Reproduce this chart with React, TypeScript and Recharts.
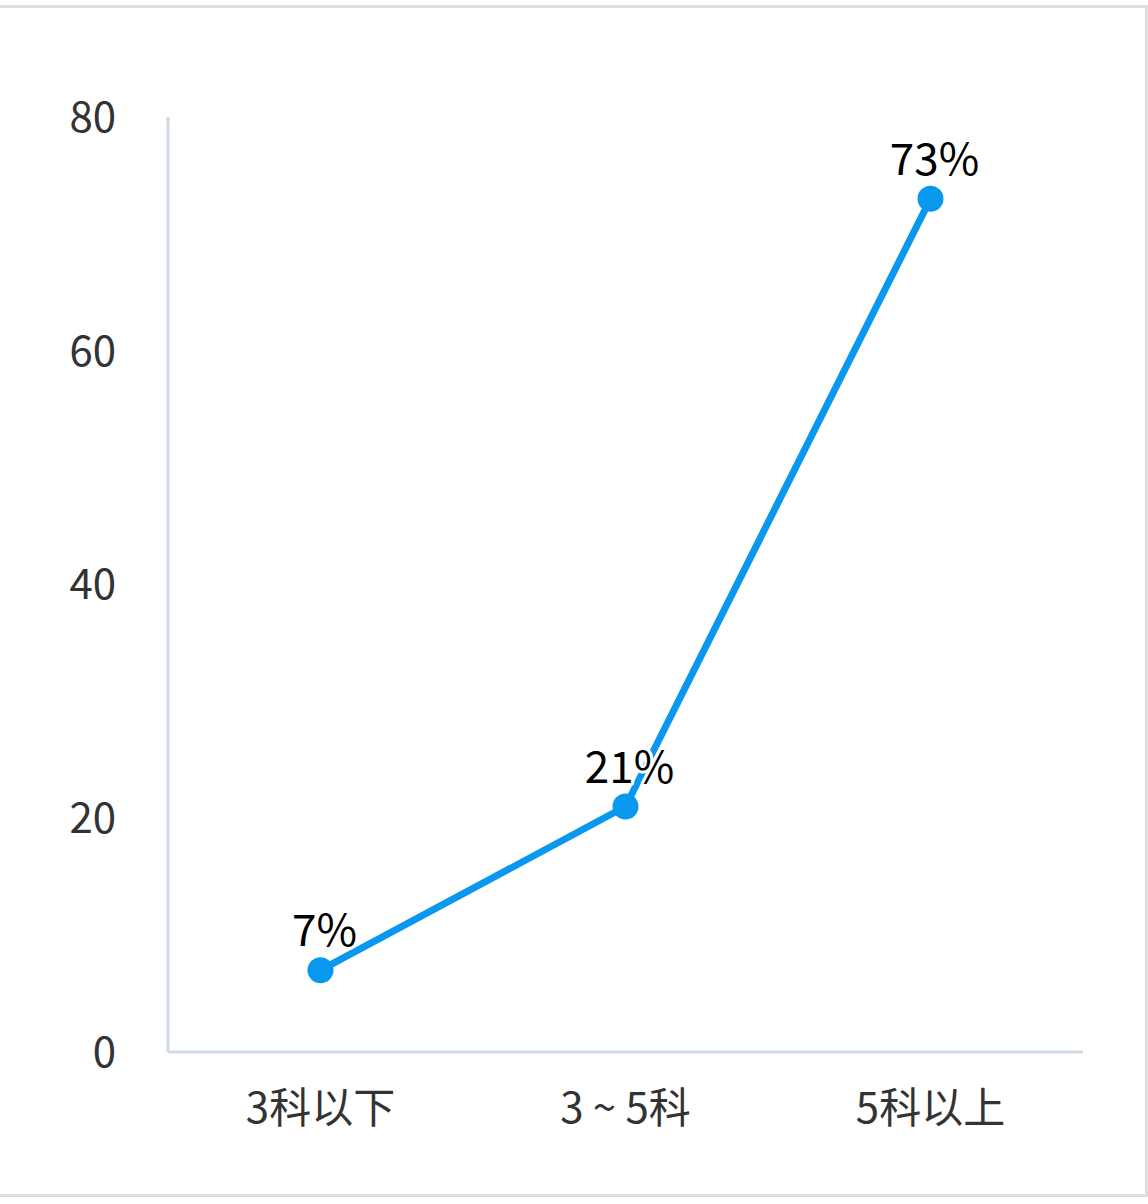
import React from 'react';
import { LineChart, Line, XAxis, YAxis, LabelList } from 'recharts';

const categories = ['3科以下', '3 ~ 5科', '5科以上'];
const values = [7, 21, 73];
const yTicks = [0, 20, 40, 60, 80];

const data = categories.map((name, i) => ({ name, value: values[i] }));

const FONT = '"Noto Sans CJK SC", "Noto Sans", sans-serif';
const LINE = '#0a98ef';
const AXIS = '#cfd9e8';

const renderLabel = (props: any) => {
  const { x, y, value } = props;
  return (
    <text
      x={x + 4}
      y={y - 24}
      textAnchor="middle"
      fontSize={44}
      fontFamily={FONT}
      fill="#000"
      stroke="#fff"
      strokeWidth={6}
      paintOrder="stroke"
      strokeLinejoin="round"
    >
      {`${value}%`}
    </text>
  );
};

export default function App() {
  return (
    <div style={{ position: 'absolute', left: 0, top: 0, width: 1148, height: 1204, background: '#fff' }}>
      <div
        style={{
          position: 'absolute',
          left: -3,
          top: 5,
          width: 1151,
          height: 1192,
          border: '3px solid #dedede',
          boxSizing: 'border-box',
        }}
      />
      <div style={{ position: 'absolute', left: 0, top: 0 }}>
        <LineChart
          width={1148}
          height={1204}
          data={data}
          margin={{ top: 117, right: 65, bottom: 0, left: 0 }}
        >
          <XAxis
            dataKey="name"
            scale="band"
            height={152}
            axisLine={{ stroke: AXIS, strokeWidth: 3 }}
            tickLine={false}
            tickSize={0}
            tickMargin={41}
            tick={{ fontSize: 42, fontFamily: FONT, fill: '#333' }}
          />
          <YAxis
            width={168}
            domain={[0, 80]}
            ticks={yTicks}
            axisLine={{ stroke: AXIS, strokeWidth: 3 }}
            tickLine={false}
            tickSize={0}
            tickMargin={52}
            tick={{ fontSize: 42, fontFamily: FONT, fill: '#333' }}
          />
          <Line
            type="linear"
            dataKey="value"
            stroke={LINE}
            strokeWidth={7}
            dot={{ r: 13, fill: LINE, stroke: LINE, strokeWidth: 0 }}
            activeDot={false}
            isAnimationActive={false}
          >
            <LabelList dataKey="value" content={renderLabel} />
          </Line>
        </LineChart>
      </div>
    </div>
  );
}
